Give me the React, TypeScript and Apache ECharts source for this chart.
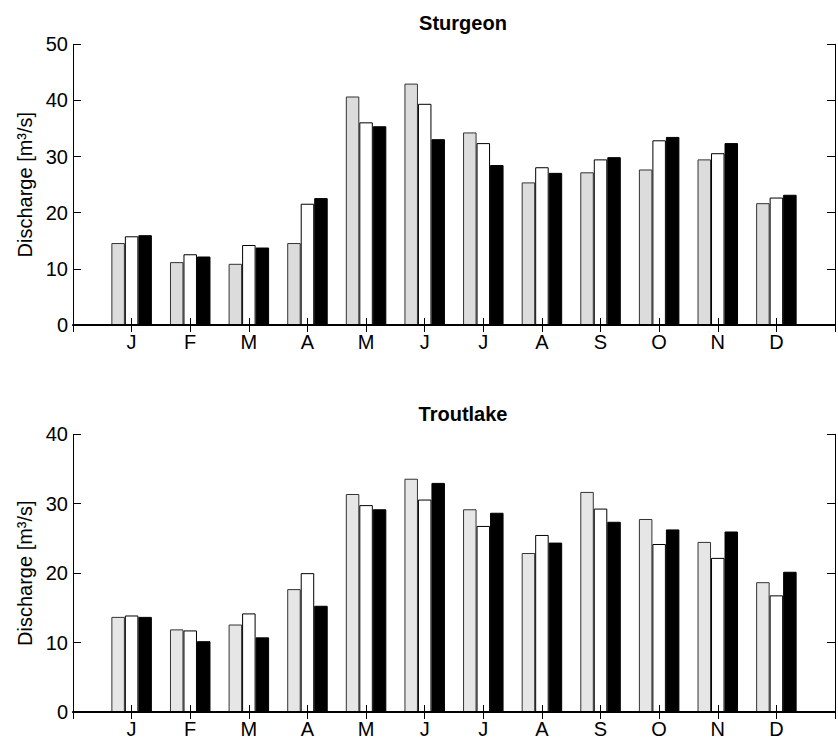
import React, { useEffect, useRef } from "react";
import * as echarts from "echarts";

const months = ["J", "F", "M", "A", "M", "J", "J", "A", "S", "O", "N", "D"];

const sturgeonGray = [14.6, 11.2, 10.9, 14.6, 40.7, 43.0, 34.3, 25.4, 27.2, 27.7, 29.5, 21.7];
const sturgeonWhite = [15.8, 12.6, 14.25, 21.6, 36.1, 39.4, 32.4, 28.1, 29.5, 32.9, 30.6, 22.7];
const sturgeonBlack = [16.0, 12.2, 13.8, 22.6, 35.4, 33.1, 28.5, 27.1, 29.9, 33.5, 32.4, 23.2];

const troutGray = [13.7, 11.9, 12.6, 17.7, 31.4, 33.6, 29.2, 22.9, 31.7, 27.8, 24.5, 18.7];
const troutWhite = [13.9, 11.75, 14.2, 20.0, 29.8, 30.6, 26.8, 25.5, 29.3, 24.2, 22.2, 16.8];
const troutBlack = [13.7, 10.2, 10.75, 15.3, 29.2, 33.0, 28.7, 24.4, 27.4, 26.3, 26.0, 20.2];

const titles = ["Sturgeon", "Troutlake"];
const yMax = [50, 40];
const yInterval = 10;

const FONT = "'Liberation Sans', Arial, Helvetica, sans-serif";

export default function App() {
  const ref = useRef<HTMLDivElement>(null);

  useEffect(() => {
    if (!ref.current) return;
    const chart = echarts.init(ref.current, undefined, { renderer: "svg" });

    const cats = ["", ...months, ""];
    const pad = (arr: number[]) => [null, ...arr, null];

    const grids = [
      { left: 73, top: 44.3, width: 771, height: 280.7 },
      { left: 73, top: 434.3, width: 771, height: 281.4 },
    ];

    const xAxes: any[] = [];
    const yAxes: any[] = [];
    const series: any[] = [];

    const sets = [
      [sturgeonGray, sturgeonWhite, sturgeonBlack, "#dcdcdc"],
      [troutGray, troutWhite, troutBlack, "#e6e6e6"],
    ] as const;

    grids.forEach((_, gi) => {
      xAxes.push({
        type: "category",
        gridIndex: gi,
        position: "bottom",
        data: cats,
        boundaryGap: false,
        z: 10,
        axisLine: { show: true, lineStyle: { color: "#000", width: 2 } },
        axisTick: { show: true, inside: true, length: 7, interval: 0, lineStyle: { color: "#000", width: 1 } },
        axisLabel: { show: true, interval: 0, margin: 7, color: "#000", fontSize: 20, fontFamily: FONT },
        splitLine: { show: false },
      });
      xAxes.push({
        type: "category",
        gridIndex: gi,
        position: "top",
        data: cats,
        boundaryGap: false,
        z: 10,
        axisLine: { show: true, lineStyle: { color: "#000", width: 1 } },
        axisTick: { show: true, inside: true, length: 7, interval: 0, lineStyle: { color: "#000", width: 1 } },
        axisLabel: { show: false },
        splitLine: { show: false },
      });
      yAxes.push({
        type: "value",
        gridIndex: gi,
        position: "left",
        min: 0,
        max: yMax[gi],
        interval: yInterval,
        z: 10,
        name: "Discharge [m³/s]",
        nameLocation: "middle",
        nameGap: 38,
        nameTextStyle: { color: "#000", fontSize: 20, fontFamily: FONT },
        axisLine: { show: true, lineStyle: { color: "#000", width: 1 } },
        axisTick: { show: true, inside: true, length: 8, lineStyle: { color: "#000", width: 1 } },
        axisLabel: { show: true, margin: 5, color: "#000", fontSize: 20, fontFamily: FONT },
        splitLine: { show: false },
      });
      yAxes.push({
        type: "value",
        gridIndex: gi,
        position: "right",
        min: 0,
        max: yMax[gi],
        interval: yInterval,
        z: 10,
        axisLine: { show: true, lineStyle: { color: "#000", width: 1 } },
        axisTick: { show: true, inside: true, length: 8, lineStyle: { color: "#000", width: 1 } },
        axisLabel: { show: false },
        splitLine: { show: false },
      });

      const [g, w, b, grayColor] = sets[gi];
      const common = {
        type: "bar",
        xAxisIndex: gi * 2,
        yAxisIndex: gi * 2,
        barWidth: 13.5,
        barGap: "0%",
      };
      series.push({
        ...common,
        name: "gray" + gi,
        data: pad(g as number[]),
        itemStyle: { color: grayColor, borderColor: "#333", borderWidth: 1 },
      });
      series.push({
        ...common,
        name: "white" + gi,
        data: pad(w as number[]),
        itemStyle: { color: "#ffffff", borderColor: "#000", borderWidth: 1 },
      });
      series.push({
        ...common,
        name: "black" + gi,
        data: pad(b as number[]),
        itemStyle: { color: "#000000", borderColor: "#000", borderWidth: 1 },
      });
    });

    chart.setOption({
      animation: false,
      backgroundColor: "#ffffff",
      title: [
        {
          text: titles[0],
          left: 458,
          top: 8,
          textAlign: "center",
          textStyle: { fontSize: 20, fontWeight: "bold", color: "#000", fontFamily: FONT },
        },
        {
          text: titles[1],
          left: 458,
          top: 399,
          textAlign: "center",
          textStyle: { fontSize: 20, fontWeight: "bold", color: "#000", fontFamily: FONT },
        },
      ],
      grid: grids,
      xAxis: xAxes,
      yAxis: yAxes,
      series,
    });

    return () => chart.dispose();
  }, []);

  return (
    <div
      ref={ref}
      style={{ position: "absolute", left: 0, top: 0, width: 838, height: 739 }}
    />
  );
}
